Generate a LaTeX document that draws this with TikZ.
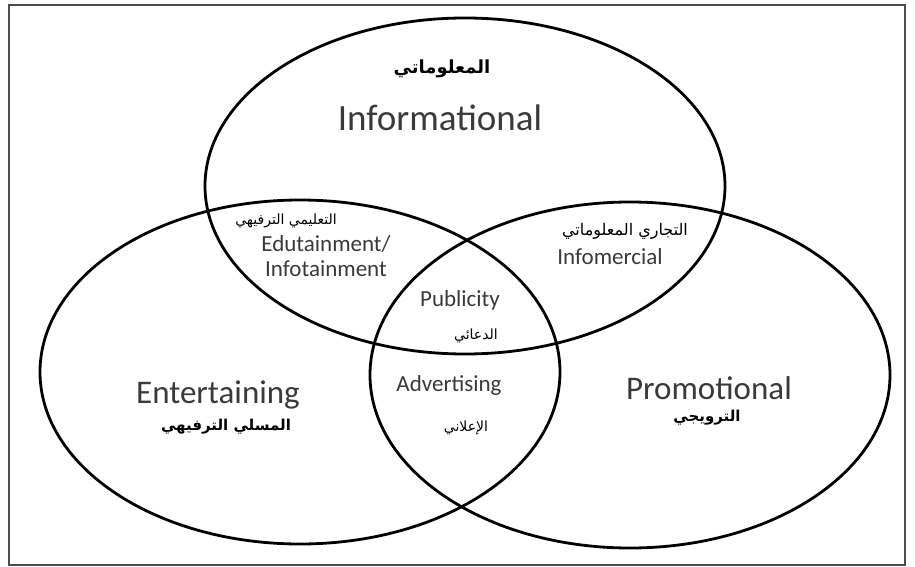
\documentclass[tikz,border=0pt]{standalone}
\usepackage{fontspec}
\newfontfamily\latinfont{Carlito}
\newfontfamily\arabicfont[Script=Arabic]{DejaVu Sans}
\TeXXeTstate=1
\definecolor{textgray}{HTML}{3A3A3A}
\tikzset{
  ring/.style={draw=black, line width=2.8pt},
  biglabel/.style={text=textgray, font=\latinfont\fontsize{33}{36}\selectfont, inner sep=0pt},
  midlabel/.style={text=textgray, font=\latinfont\fontsize{23}{25}\selectfont, inner sep=0pt, align=center},
  arbold/.style={text=black, font=\arabicfont\bfseries\fontsize{15}{17}\selectfont, inner sep=0pt},
  arthin/.style={text=black, font=\arabicfont\fontsize{14}{16}\selectfont, inner sep=0pt}
}
\begin{document}
\begin{tikzpicture}[x=1pt, y=-1pt]
% Page and frame
\useasboundingbox (0,0) rectangle (915,567);
\fill[white] (0,0) rectangle (915,567);
\draw[line width=1.6pt, draw=black!70] (9,5) rectangle (905,565);

% The three sets
\draw[ring] (465,186) ellipse [x radius=260, y radius=168];
\draw[ring] (300,372) ellipse [x radius=260, y radius=172];
\draw[ring] (630,375) ellipse [x radius=260, y radius=173];

% Informational
\node[arbold, font=\arabicfont\bfseries\fontsize{18}{20}\selectfont] (infoAr) at (442,69) {\beginR المعلوماتي\endR};
\node[biglabel, font=\latinfont\fontsize{37}{40}\selectfont] (info) at (440,118) {Informational};

% Entertaining
\node[biglabel] (ent) at (218,395) {Entertaining};
\node[arbold] (entAr) at (226,427) {\beginR المسلي الترفيهي\endR};

% Promotional
\node[biglabel] (promo) at (709,388) {Promotional};
\node[arbold] (promoAr) at (707,418) {\beginR الترويجي\endR};

% Overlaps
\node[arthin] (eduAr) at (286,221) {\beginR التعليمي الترفيهي\endR};
\node[midlabel] (edu) at (326,256) {Edutainment/\\Infotainment};
\node[arthin, font=\arabicfont\fontsize{16}{18}\selectfont] (infomAr) at (625,231) {\beginR التجاري المعلوماتي\endR};
\node[midlabel] (infom) at (610,257) {Infomercial};
\node[midlabel] (pub) at (460,300) {Publicity};
\node[arthin] (pubAr) at (476,336) {\beginR الدعائي\endR};
\node[midlabel] (adv) at (449,385) {Advertising};
\node[arthin] (advAr) at (466,428) {\beginR الإعلاني\endR};
\end{tikzpicture}
\end{document}
